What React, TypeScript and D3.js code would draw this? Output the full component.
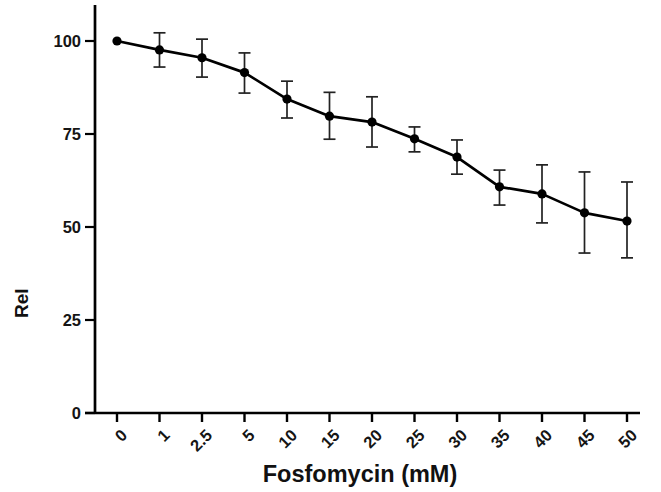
import React from "react";
import * as d3 from "d3";

const categories = ["0", "1", "2.5", "5", "10", "15", "20", "25", "30", "35", "40", "45", "50"];
const means = [100, 97.6, 95.5, 91.5, 84.4, 79.8, 78.2, 73.7, 68.8, 60.8, 58.9, 53.8, 51.6];
const upper = [100, 102.2, 100.5, 96.8, 89.2, 86.2, 85, 76.9, 73.4, 65.3, 66.7, 64.8, 62.1];
const lower = [100, 93, 90.3, 86, 79.3, 73.6, 71.5, 70.2, 64.2, 55.9, 51.1, 43, 41.7];
const yTicks = [0, 25, 50, 75, 100];
const xTitle = "Fosfomycin (mM)";
const yTitle = "Rel";

export default function App() {
  const W = 661, H = 492;
  const x = d3.scalePoint<string>().domain(categories).range([117, 627]);
  const y = d3.scaleLinear().domain([0, 100]).range([413, 41]);
  const axisX = 95;
  const axisY = y(0);
  const line = d3.line<number>()
    .x((_, i) => x(categories[i])!)
    .y((d) => y(d));
  const font = "'Liberation Sans', Arial, Helvetica, sans-serif";
  const cap = 6;

  return (
    <svg width={W} height={H} style={{ position: "absolute", left: 0, top: 0, background: "#fff" }} fontFamily={font}>
      {/* error bars */}
      {categories.map((c, i) =>
        upper[i] === lower[i] ? null : (
          <g key={"e" + c} stroke="#222" strokeWidth={1.7}>
            <line x1={x(c)} x2={x(c)} y1={y(upper[i])} y2={y(lower[i])} />
            <line x1={x(c)! - cap} x2={x(c)! + cap} y1={y(upper[i])} y2={y(upper[i])} />
            <line x1={x(c)! - cap} x2={x(c)! + cap} y1={y(lower[i])} y2={y(lower[i])} />
          </g>
        )
      )}
      <path d={line(means)!} fill="none" stroke="#000" strokeWidth={2.7} strokeLinejoin="round" />
      {categories.map((c, i) => (
        <circle key={"p" + c} cx={x(c)} cy={y(means[i])} r={4.6} fill="#000" />
      ))}
      {/* y axis */}
      <line x1={axisX} x2={axisX} y1={5} y2={axisY + 1} stroke="#000" strokeWidth={2.7} />
      {yTicks.map((t) => (
        <g key={"yt" + t}>
          <line x1={axisX - 10} x2={axisX} y1={y(t)} y2={y(t)} stroke="#000" strokeWidth={2.2} />
          <text x={axisX - 14} y={y(t)} dy="0.36em" textAnchor="end" fontSize={16.5} fontWeight="bold" fill="#151515">
            {t}
          </text>
        </g>
      ))}
      {/* x axis */}
      <line x1={axisX - 10} x2={640} y1={axisY} y2={axisY} stroke="#000" strokeWidth={2.7} />
      {categories.map((c) => (
        <g key={"xt" + c}>
          <line x1={x(c)} x2={x(c)} y1={axisY} y2={axisY + 9} stroke="#000" strokeWidth={2.4} />
          <text
            transform={`translate(${x(c)! + 7},${axisY + 19}) rotate(-45)`}
            textAnchor="end"
            fontSize={16.5}
            fontWeight="bold"
            fill="#151515"
            dy="0.36em"
          >
            {c}
          </text>
        </g>
      ))}
      <text x={360} y={482} textAnchor="middle" fontSize={23.5} fontWeight="bold" fill="#111">
        {xTitle}
      </text>
      <text transform="translate(28,318) rotate(-90)" textAnchor="start" fontSize={19} fontWeight="bold" fill="#111">
        {yTitle}
      </text>
    </svg>
  );
}
